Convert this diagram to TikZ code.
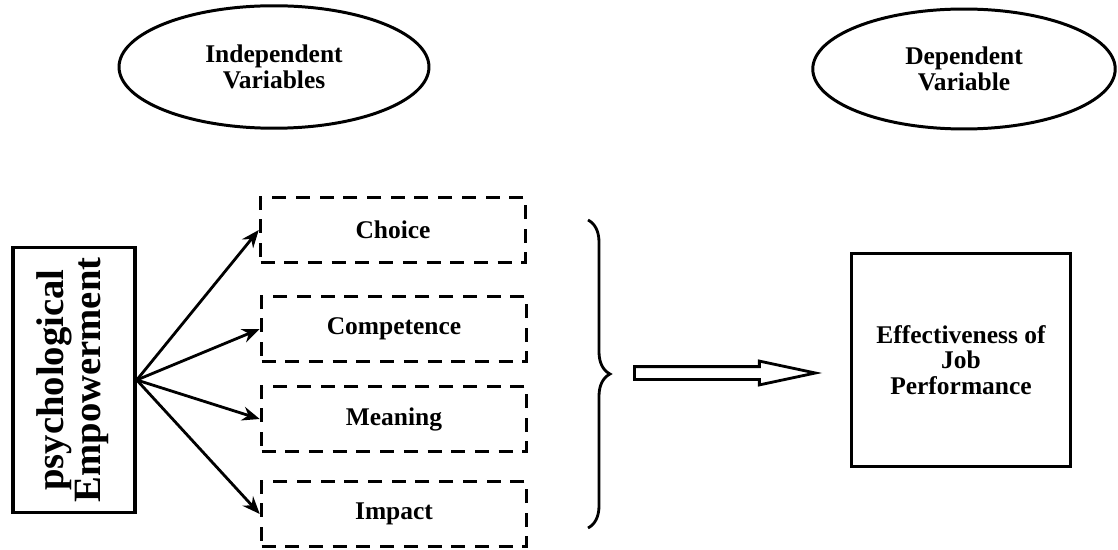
\documentclass[tikz,border=0pt]{standalone}
\usepackage{fontspec}
\setmainfont{Liberation Serif}
\usetikzlibrary{shapes.geometric,shapes.arrows,arrows.meta,decorations.pathreplacing}

\tikzset{
  varbox/.style={ellipse, draw, line width=1.7pt, minimum width=6.2cm, minimum height=2.45cm,
    align=center, font=\bfseries\fontsize{14.5}{14.5}\selectfont},
  dimbox/.style={draw, dash pattern=on 8pt off 5.5pt, line width=2pt, minimum width=5.3cm,
    minimum height=1.3cm, font=\bfseries\fontsize{14.5}{14.5}\selectfont},
  solidbox/.style={draw, line width=2pt},
  link/.style={line width=1.6pt, -{Stealth[length=10pt,width=8pt]}}
}

\begin{document}
\begin{tikzpicture}[x=0.02cm, y=-0.02cm]
\useasboundingbox (0,0) rectangle (1118,550);

% variable type labels
\node[varbox] (iv) at (274,67) {Independent\\Variables};
\node[varbox, minimum width=6.05cm, minimum height=2.4cm] (dv) at (964,69) {Dependent\\Variable};

% independent side
\node[solidbox, minimum width=2.44cm, minimum height=5.3cm, font=\bfseries\fontsize{22}{21}\selectfont] (pe) at (74,380)
  {\rotatebox{90}{\begin{tabular}{@{}c@{}}psychological\\Empowerment\end{tabular}}};
\node[dimbox] (choice) at (393,230) {Choice};
\node[dimbox] (comp) at (394,329) {Competence};
\node[dimbox] (mean) at (394,419) {Meaning};
\node[dimbox] (imp) at (394,514) {Impact};

\draw[link] (pe.east) -- (choice.west);
\draw[link] (pe.east) -- (comp.west);
\draw[link] (pe.east) -- (mean.west);
\draw[link] (pe.east) -- (imp.west);

% brace and flow arrow
\coordinate (bt) at (588,220);
\coordinate (bb) at (588,528);
\draw[decorate, decoration={brace, amplitude=0.44cm}, line width=1.6pt] (bt) -- (bb);
\node[single arrow, draw, line width=1.6pt, minimum height=3.62cm, minimum width=0.44cm,
  single arrow head extend=0.11cm, single arrow tip angle=24, inner xsep=0pt, inner ysep=0.1cm,
  anchor=tail] (flow) at (633,373) {};

% dependent side
\node[solidbox, minimum width=4.38cm, minimum height=4.26cm, align=center,
  font=\bfseries\fontsize{14.5}{14.5}\selectfont] (jp) at (961,360)
  {Effectiveness of\\Job\\Performance};
\end{tikzpicture}
\end{document}
